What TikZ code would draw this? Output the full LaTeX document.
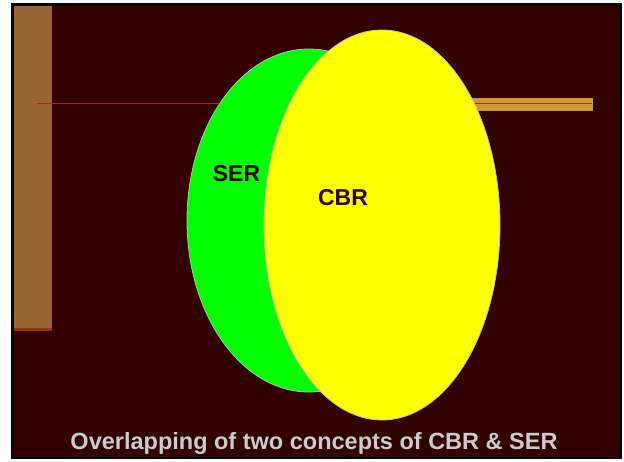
\documentclass[tikz,border=0pt]{standalone}
\usepackage{fontspec}
\setmainfont{Liberation Sans}
\usepackage{xcolor}
\usepackage{tikz}
\usetikzlibrary{positioning,shapes.geometric}

\definecolor{bgdark}{HTML}{330000}
\definecolor{barbrown}{HTML}{996633}
\definecolor{barrust}{HTML}{993300}
\definecolor{bargold}{HTML}{CC9933}
\definecolor{sergreen}{HTML}{00FF00}
\definecolor{cbryellow}{HTML}{FFFF00}
\definecolor{capgray}{HTML}{CCCCCC}

\tikzset{
  blob/.style={ellipse, draw=gray!50, line width=0.8pt, inner sep=0pt},
  label/.style={font=\fontsize{23}{26}\selectfont\bfseries, text=bgdark},
}

\begin{document}
\begin{tikzpicture}[x=1pt, y=-1pt]
\useasboundingbox (0,0) rectangle (624,461);
% frame and background
\fill[white] (0,0) rectangle (624,461);
\fill[black] (11,3) rectangle (622,459);
\fill[bgdark] (14,6) rectangle (620,457);

% left bar
\fill[barbrown] (14,6) rectangle (52,328);
\fill[barrust] (14,328) rectangle (52,331);

% right bar and line
\fill[bargold] (471,98) rectangle (593,111);
\coordinate (L0) at (37,103);
\coordinate (L1) at (592,103);
\draw[barrust, line width=1pt] (L0) -- (L1);

% the two concepts
\node[blob, fill=sergreen, minimum width=244, minimum height=343] (SERe) at (309,220.5) {};
\node[blob, fill=cbryellow, minimum width=236, minimum height=390] (CBRe) at (382,225) {};

\node[label] (SER) at (236.5,173.5) {SER};
\node[label] (CBR) at (343,197.5) {CBR};

% caption
\node[font=\fontsize{23.5}{26}\selectfont\bfseries, text=capgray] (cap) at (314,443) {Overlapping of two concepts of CBR \& SER};
\end{tikzpicture}
\end{document}
